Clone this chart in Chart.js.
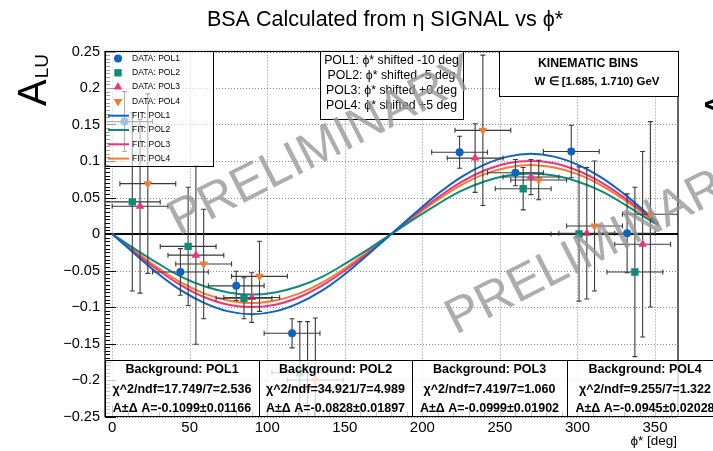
<!DOCTYPE html>
<html>
<head>
<meta charset="utf-8">
<script src="https://cdn.jsdelivr.net/npm/chart.js@4.4.1/dist/chart.umd.min.js"></script>
<style>
  html, body { margin: 0; padding: 0; background: #fff; }
  #wrap { width: 713px; height: 451px; }
</style>
</head>
<body>
<div id="wrap"><canvas id="bsa" width="713" height="451"></canvas></div>
<script>
const FONT = '"Liberation Sans", Arial, Helvetica, sans-serif';

// phi* bins (deg) and the per-polarisation shift applied for display
const BIN_CENTERS = [18, 54, 90, 126, 162, 198, 234, 270, 306, 342];
const BIN_HALF = 18;
const SHIFTS = [-10, -5, 0, 5];
const SERIES = ['POL1', 'POL2', 'POL3', 'POL4'];

// BSA values per bin (null = no point)
const BSA_POL1 = [0.154, -0.052, -0.071, -0.136, null, null, 0.112, 0.084, 0.113, 0.001];
const BSA_POL2 = [0.044, -0.017, -0.088, -0.190, null, null, null, 0.062, 0.000, -0.052];
const BSA_POL3 = [0.038, -0.029, -0.087, -0.210, null, null, 0.104, 0.078, 0.001, -0.014];
const BSA_POL4 = [0.069, -0.041, -0.058, -0.200, null, null, 0.142, 0.074, 0.011, 0.027];

const ERR_POL1 = [0.041, 0.032, 0.020, 0.020, null, null, 0.022, 0.018, 0.036, 0.054];
const ERR_POL2 = [0.122, 0.081, 0.028, 0.070, null, null, null, 0.029, 0.092, 0.116];
const ERR_POL3 = [0.119, 0.122, 0.034, 0.090, null, null, 0.047, 0.024, 0.090, 0.127];
const ERR_POL4 = [0.123, 0.075, 0.048, 0.085, null, null, 0.103, 0.027, 0.089, 0.127];

// fit curves
const FIT_PHI  = [0, 15, 30, 45, 60, 75, 90, 105, 120, 135, 150, 165, 180, 195, 210, 225, 240, 255, 270, 285, 300, 315, 330, 345, 352];
const FIT_POL1 = [0, -0.028, -0.055, -0.078, -0.095, -0.106, -0.110, -0.106, -0.095, -0.078, -0.055, -0.028, 0, 0.028, 0.055, 0.078, 0.095, 0.106, 0.110, 0.106, 0.095, 0.078, 0.055, 0.028, 0.015];
const FIT_POL2 = [0, -0.021, -0.041, -0.059, -0.072, -0.080, -0.083, -0.080, -0.072, -0.059, -0.041, -0.021, 0, 0.021, 0.041, 0.059, 0.072, 0.080, 0.083, 0.080, 0.072, 0.059, 0.041, 0.021, 0.012];
const FIT_POL3 = [0, -0.026, -0.050, -0.071, -0.087, -0.097, -0.100, -0.097, -0.087, -0.071, -0.050, -0.026, 0, 0.026, 0.050, 0.071, 0.087, 0.097, 0.100, 0.097, 0.087, 0.071, 0.050, 0.026, 0.014];
const FIT_POL4 = [0, -0.024, -0.047, -0.067, -0.082, -0.091, -0.0945, -0.091, -0.082, -0.067, -0.047, -0.024, 0, 0.024, 0.047, 0.067, 0.082, 0.091, 0.0945, 0.091, 0.082, 0.067, 0.047, 0.024, 0.013];

// fit summaries shown under the plot
const CHI2_TEXT = ['17.749/7=2.536', '34.921/7=4.989', '7.419/7=1.060', '9.255/7=1.322'];
const A_TEXT    = ['-0.1099', '-0.0828', '-0.0999', '-0.0945'];
const DA_TEXT   = ['0.01166', '0.01897', '0.01902', '0.02028'];

const X_TICKS = [0, 50, 100, 150, 200, 250, 300, 350];
const Y_TICKS = [-0.25, -0.2, -0.15, -0.1, -0.05, 0, 0.05, 0.1, 0.15, 0.2, 0.25];

const COLORS   = ['#0b63c4', '#0c8c78', '#f0337a', '#f47b2f'];
const MARKERS  = ['circle', 'rect', 'triangle', 'triangle'];
const ROTATION = [0, 0, 0, 180];
const RADIUS   = [4, 5.2, 5, 5];

const BSA = [BSA_POL1, BSA_POL2, BSA_POL3, BSA_POL4];
const ERR = [ERR_POL1, ERR_POL2, ERR_POL3, ERR_POL4];
const FIT = [FIT_POL1, FIT_POL2, FIT_POL3, FIT_POL4];

const fitSets = FIT.map((vals, s) => ({
  label: 'FIT: ' + SERIES[s],
  data: FIT_PHI.map((p, i) => ({ x: p, y: vals[i] })),
  showLine: true,
  borderColor: COLORS[s],
  borderWidth: 2,
  pointRadius: 0,
  tension: 0.4,
  order: 3
}));

const dataSets = BSA.map((vals, s) => ({
  label: 'DATA: ' + SERIES[s],
  isData: true,
  data: BIN_CENTERS.map((b, i) => vals[i] == null ? null : { x: b + SHIFTS[s], y: vals[i], e: ERR[s][i] })
                   .filter(Boolean),
  pointStyle: MARKERS[s],
  rotation: ROTATION[s],
  pointRadius: RADIUS[s],
  backgroundColor: COLORS[s],
  borderColor: COLORS[s],
  borderWidth: 0,
  order: 1
}));

function fmtY(v) {
  if (Math.abs(v) < 1e-9) return '0';
  return (v < 0 ? '\u2212' : '') + String(+Math.abs(v).toFixed(2));
}

// ── error bars under each marker ─────────────────────────────
const errorBars = {
  id: 'errorBars',
  beforeDatasetDraw(chart, args) {
    const ds = chart.data.datasets[args.index];
    if (!ds.isData) return;
    const { ctx, chartArea: a, scales: { x, y } } = chart;
    ctx.save();
    ctx.beginPath();
    ctx.rect(a.left, a.top, a.right - a.left, a.bottom - a.top);
    ctx.clip();
    ctx.strokeStyle = '#3a3a3a';
    ctx.lineWidth = 1.1;
    const cap = 2.5;
    ds.data.forEach(d => {
      const px = x.getPixelForValue(d.x), py = y.getPixelForValue(d.y);
      const x0 = x.getPixelForValue(d.x - BIN_HALF), x1 = x.getPixelForValue(d.x + BIN_HALF);
      const y0 = y.getPixelForValue(d.y + d.e), y1 = y.getPixelForValue(d.y - d.e);
      ctx.beginPath();
      ctx.moveTo(x0, py); ctx.lineTo(x1, py);
      ctx.moveTo(px, y0); ctx.lineTo(px, y1);
      ctx.moveTo(x0, py - cap); ctx.lineTo(x0, py + cap);
      ctx.moveTo(x1, py - cap); ctx.lineTo(x1, py + cap);
      ctx.moveTo(px - cap, y0); ctx.lineTo(px + cap, y0);
      ctx.moveTo(px - cap, y1); ctx.lineTo(px + cap, y1);
      ctx.stroke();
    });
    ctx.restore();
  }
};

// ── grid, zero line, frame and inner ticks ───────────────────
const frame = {
  id: 'frame',
  beforeDatasetsDraw(chart) {
    const { ctx, chartArea: a, scales: { x, y } } = chart;
    ctx.save();
    ctx.strokeStyle = 'rgba(0,0,0,0.45)';
    ctx.lineWidth = 1;
    ctx.setLineDash([1, 2]);
    X_TICKS.forEach(v => {
      const px = Math.round(x.getPixelForValue(v)) + 0.5;
      ctx.beginPath(); ctx.moveTo(px, a.top); ctx.lineTo(px, a.bottom); ctx.stroke();
    });
    Y_TICKS.forEach(v => {
      const py = Math.round(y.getPixelForValue(v)) + 0.5;
      ctx.beginPath(); ctx.moveTo(a.left, py); ctx.lineTo(a.right, py); ctx.stroke();
    });
    ctx.setLineDash([]);

    // minor / major ticks inside the frame
    ctx.strokeStyle = '#000';
    ctx.lineWidth = 1;
    ctx.beginPath();
    for (let k = -50; k <= 50; k++) {
      const v = k * 0.005;
      const py = Math.round(y.getPixelForValue(v)) + 0.5;
      const len = (k % 10 === 0) ? 11 : 5;
      ctx.moveTo(a.left, py); ctx.lineTo(a.left + len, py);
    }
    for (let d = 0; d <= 360; d += 10) {
      const px = Math.round(x.getPixelForValue(d)) + 0.5;
      const len = (d % 50 === 0) ? 11 : 5;
      ctx.moveTo(px, a.bottom); ctx.lineTo(px, a.bottom - len);
    }
    ctx.stroke();

    // zero line
    const y0 = y.getPixelForValue(0);
    ctx.lineWidth = 2;
    ctx.beginPath(); ctx.moveTo(a.left, y0); ctx.lineTo(a.right, y0); ctx.stroke();

    ctx.lineWidth = 1.2;
    ctx.strokeRect(a.left, a.top, a.right - a.left, a.bottom - a.top);
    ctx.restore();
  }
};

// ── title, legend, text boxes, watermark ─────────────────────
const overlay = {
  id: 'overlay',
  afterDraw(chart) {
    const { ctx, chartArea: a } = chart;
    ctx.save();

    // title
    ctx.fillStyle = '#000';
    ctx.font = `21.5px ${FONT}`;
    ctx.textAlign = 'center';
    ctx.textBaseline = 'middle';
    ctx.fillText('BSA Calculated from \u03B7 SIGNAL vs \u03D5*', 385, 20);

    // y title A_LU (rotated)
    ctx.save();
    ctx.translate(46, 106);
    ctx.rotate(-Math.PI / 2);
    ctx.textAlign = 'left';
    ctx.textBaseline = 'alphabetic';
    ctx.font = `40px ${FONT}`;
    ctx.fillText('A', 0, 0);
    const wA = ctx.measureText('A').width;
    ctx.font = `19px ${FONT}`;
    ctx.fillText('LU', wA + 1, 2);
    ctx.restore();

    // piece of neighbouring pad's y title at right edge
    ctx.save();
    ctx.translate(733, 118);
    ctx.rotate(-Math.PI / 2);
    ctx.textAlign = 'left';
    ctx.textBaseline = 'alphabetic';
    ctx.font = `40px ${FONT}`;
    ctx.fillText('A', 0, 0);
    ctx.restore();

    // x title
    ctx.font = `13.5px ${FONT}`;
    ctx.textAlign = 'right';
    ctx.textBaseline = 'middle';
    ctx.fillText('\u03D5* [deg]', 677, 441);

    // legend
    ctx.fillStyle = 'rgba(255,255,255,0.6)';
    ctx.fillRect(a.left, a.top, 108, 115);
    ctx.strokeStyle = '#000';
    ctx.lineWidth = 1;
    ctx.strokeRect(a.left + 0.5, a.top, 108, 115);
    ctx.font = `8.5px ${FONT}`;
    ctx.textAlign = 'left';
    ctx.textBaseline = 'middle';
    const rowY = r => 58.5 + r * 14.3;
    SERIES.forEach((name, s) => {
      const yy = rowY(s);
      ctx.fillStyle = COLORS[s];
      ctx.strokeStyle = COLORS[s];
      Chart.helpers.drawPoint(ctx, { pointStyle: MARKERS[s], rotation: ROTATION[s], radius: RADIUS[s], borderWidth: 0 }, 118, yy);
      ctx.fillStyle = '#000';
      ctx.fillText('DATA: ' + name, 132, yy);
    });
    SERIES.forEach((name, s) => {
      const yy = rowY(s + 4);
      ctx.strokeStyle = COLORS[s];
      ctx.lineWidth = 2;
      ctx.beginPath(); ctx.moveTo(108, yy); ctx.lineTo(129, yy); ctx.stroke();
      ctx.fillStyle = '#000';
      ctx.fillText('FIT: ' + name, 132, yy);
    });

    // shift description box
    ctx.fillStyle = '#fff';
    ctx.fillRect(320, a.top, 143, 68);
    ctx.strokeStyle = '#000';
    ctx.lineWidth = 1;
    ctx.strokeRect(320.5, a.top, 143, 68);
    ctx.fillStyle = '#000';
    ctx.font = `12.3px ${FONT}`;
    ctx.textAlign = 'center';
    SERIES.forEach((name, s) => {
      const sh = SHIFTS[s] < 0 ? String(SHIFTS[s]) : '+' + SHIFTS[s];
      ctx.fillText(`${name}: \u03D5* shifted ${sh} deg`, 391.5, 61 + s * 15);
    });

    // kinematic bins box
    ctx.fillStyle = '#fff';
    ctx.fillRect(499, a.top, a.right - 499, 45);
    ctx.strokeRect(499.5, a.top, a.right - 499, 45);
    ctx.fillStyle = '#000';
    ctx.font = `bold 12.3px ${FONT}`;
    ctx.fillText('KINEMATIC BINS', 588, 63.5);
    ctx.font = `bold 11.5px ${FONT}`;
    ctx.fillText('W \u2208 [1.685, 1.710) GeV', 597, 82);

    // fit summary boxes
    const edges = [a.left, 259, 412, 567, 724];
    for (let s = 0; s < 4; s++) {
      const l = edges[s], r = edges[s + 1];
      ctx.fillStyle = 'rgba(255,255,255,0.78)';
      ctx.fillRect(l, 360, r - l, a.bottom - 360);
      ctx.strokeStyle = '#000';
      ctx.lineWidth = 1;
      ctx.strokeRect(l + 0.5, 360.5, r - l, a.bottom - 360.5);
      ctx.fillStyle = '#000';
      ctx.font = `bold 12.5px ${FONT}`;
      const cx = (l + Math.min(r, 723)) / 2;
      ctx.fillText('Background: ' + SERIES[s], cx, 370);
      ctx.fillText('\u03C7^2/ndf=' + CHI2_TEXT[s], cx, 389.5);
      ctx.fillText(`A\u00B1\u0394 A=${A_TEXT[s]}\u00B1${DA_TEXT[s]}`, cx, 409);
    }

    // PRELIMINARY watermarks
    ctx.fillStyle = 'rgba(150,150,150,0.78)';
    ctx.font = `50px ${FONT}`;
    ctx.textAlign = 'center';
    ctx.textBaseline = 'middle';
    [[323, 147], [600, 246]].forEach(([wx, wy]) => {
      ctx.save();
      ctx.translate(wx, wy);
      ctx.rotate(-27 * Math.PI / 180);
      ctx.fillText('PRELIMINARY', 0, 0);
      ctx.restore();
    });

    ctx.restore();
  }
};

new Chart(document.getElementById('bsa').getContext('2d'), {
  type: 'scatter',
  data: { datasets: [...fitSets, ...dataSets] },
  options: {
    responsive: false,
    animation: false,
    layout: { padding: { top: 51.5, right: 35, left: 0, bottom: 0 } },
    plugins: {
      legend: { display: false },
      tooltip: { enabled: false },
      title: { display: false }
    },
    scales: {
      x: {
        type: 'linear', min: -4.6, max: 364.8,
        afterBuildTicks: s => { s.ticks = X_TICKS.map(v => ({ value: v })); },
        afterFit: s => { s.height = 34.5; },
        grid: { display: false, drawTicks: false },
        border: { display: false },
        ticks: { color: '#000', padding: 2, maxRotation: 0, font: { family: FONT, size: 15 },
                 callback: v => String(v) }
      },
      y: {
        type: 'linear', min: -0.25, max: 0.25,
        afterBuildTicks: s => { s.ticks = Y_TICKS.map(v => ({ value: v })); },
        afterFit: s => { s.width = 105; },
        grid: { display: false, drawTicks: false },
        border: { display: false },
        ticks: { color: '#000', padding: 5, font: { family: FONT, size: 14.5 }, callback: v => fmtY(v) }
      }
    }
  },
  plugins: [frame, errorBars, overlay]
});
</script>
</body>
</html>
